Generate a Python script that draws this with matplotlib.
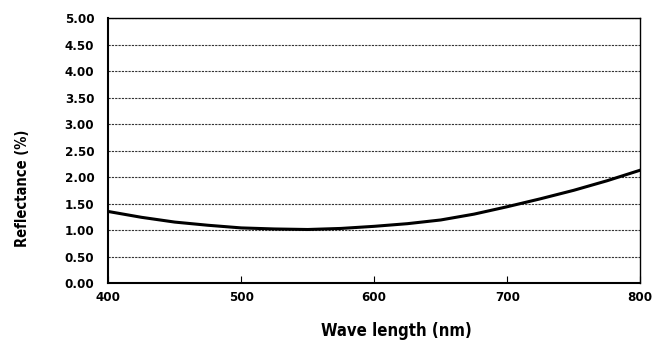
import matplotlib
matplotlib.use("Agg")
from matplotlib import pyplot as plt

wavelength = [400, 425, 450, 475, 500, 525, 550, 575, 600, 625, 650, 675, 700, 725, 750, 775, 800]
reflectance = [1.35, 1.24, 1.15, 1.09, 1.04, 1.02, 1.01, 1.03, 1.07, 1.12, 1.19, 1.30, 1.44, 1.59, 1.75, 1.93, 2.13]

y_ticks = [0.0, 0.5, 1.0, 1.5, 2.0, 2.5, 3.0, 3.5, 4.0, 4.5, 5.0]
x_ticks = [400, 500, 600, 700, 800]

plt.rcParams["font.family"] = ["DejaVu Sans"]
plt.rcParams["font.weight"] = "bold"
plt.rcParams["font.stretch"] = "condensed"

fig = plt.figure(figsize=(6.52, 3.42), dpi=100)
ax = fig.add_axes([0.166, 0.1725, 0.816, 0.7745])

ax.plot(wavelength, reflectance, "-", color="black", lw=2.2, zorder=3)

ax.set_xlim(400, 800)
ax.set_ylim(0, 5)
ax.set_xticks(x_ticks)
ax.set_yticks(y_ticks)
ax.set_yticklabels([f"{v:.2f}" for v in y_ticks])
ax.yaxis.grid(True, linestyle=(0, (2, 1)), color="#333333", lw=0.8)
ax.tick_params(axis="x", direction="in", length=5, labelsize=9.5, pad=6)
ax.tick_params(axis="y", length=0, labelsize=9.5, pad=10)
for s in ax.spines.values():
    s.set_linewidth(1.5)
ax.spines["top"].set_linewidth(1.0)
ax.spines["right"].set_linewidth(1.0)

ax.set_xlabel("Wave length (nm)", fontsize=12, fontweight="bold", va="center")
ax.xaxis.set_label_coords(0.541, -0.181)
ax.set_ylabel("Reflectance (%)", fontsize=10.5, fontweight="bold", va="center")
ax.yaxis.set_label_coords(-0.162, 0.358)

plt.savefig("out.png", dpi=100)
